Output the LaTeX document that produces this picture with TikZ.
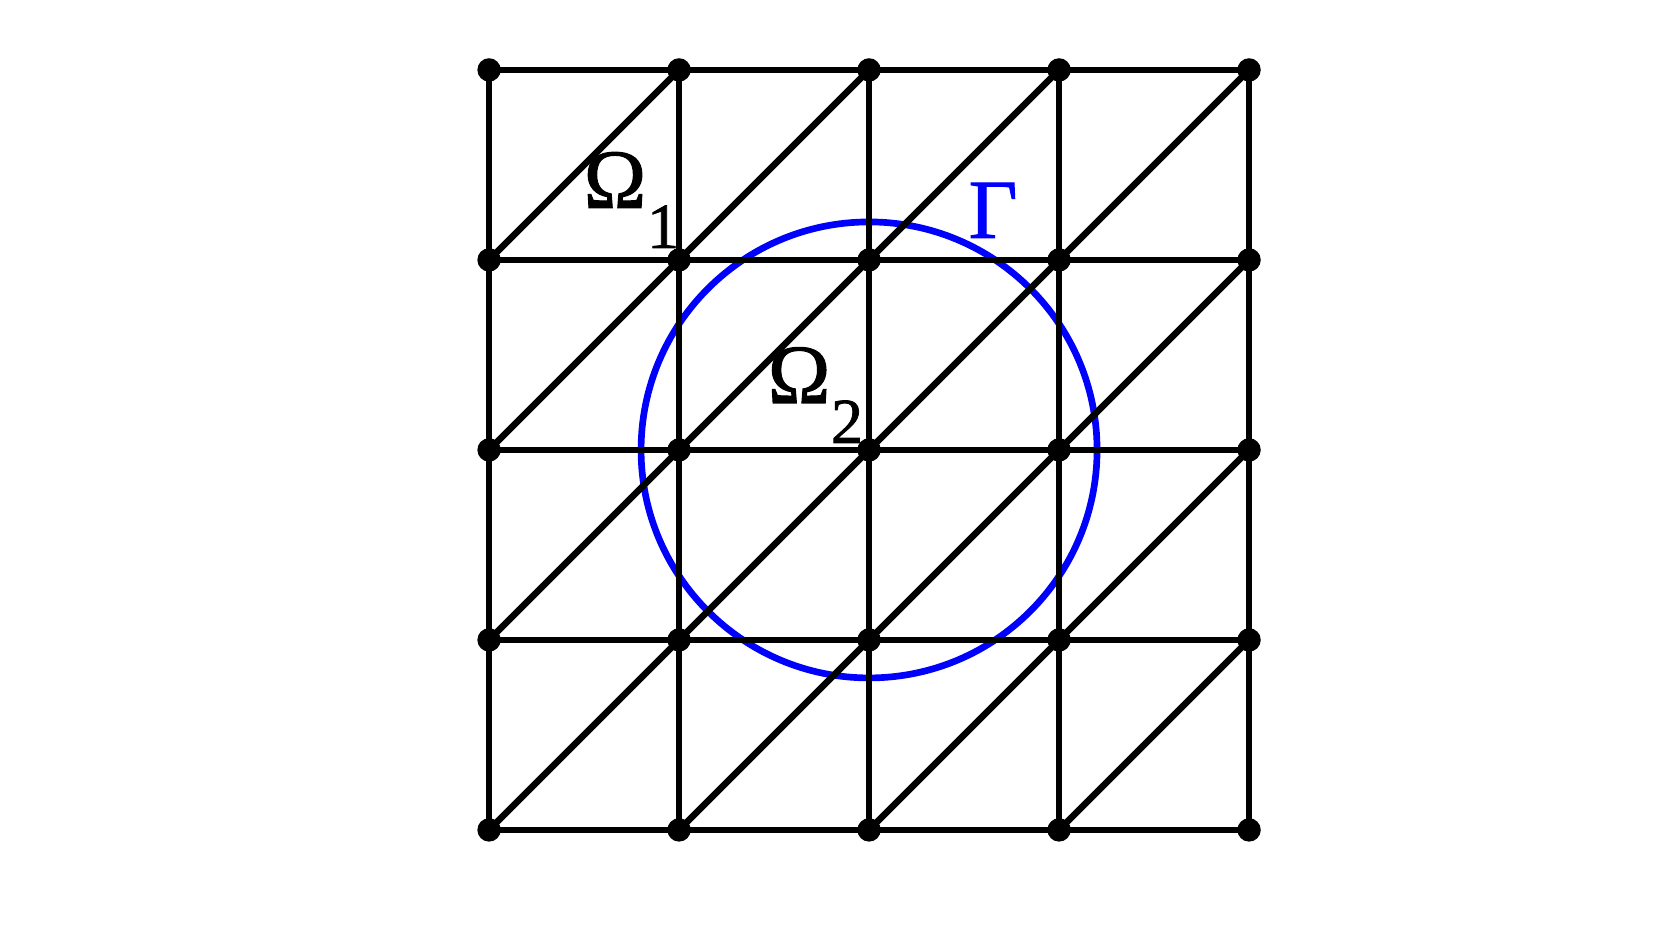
\documentclass[tikz,border=0pt]{standalone}
\usepackage{fontspec}
\setmainfont{Liberation Serif}
\newfontface\labfont[FakeBold=1.2]{Liberation Serif}
\begin{document}
\begin{tikzpicture}[x=1cm,y=1cm,
  dot/.style={circle,fill=black,inner sep=0pt,minimum size=3.5pt},
  edge/.style={line width=1pt,black},
  gamma/.style={line width=1pt,blue},
  biglab/.style={anchor=base,inner sep=0pt,font=\fontsize{12.6}{14}\labfont},
  sublab/.style={anchor=base,inner sep=0pt,font=\fontsize{9.6}{11}\labfont}]
\useasboundingbox (-2.574,-0.537) rectangle (6.268,4.368);
\foreach \i in {0,...,4}{
  \foreach \j in {0,...,4}{
    \coordinate (c-\i-\j) at (\i,\j);
  }
}
\draw[gamma] (c-2-2) circle (1.2);
\foreach \j in {0,...,4}{
  \draw[edge] (c-0-\j) -- (c-4-\j);
  \draw[edge] (c-\j-0) -- (c-\j-4);
}
\foreach \i in {0,...,3}{
  \foreach \j in {0,...,3}{
    \pgfmathtruncatemacro{\ii}{\i+1}
    \pgfmathtruncatemacro{\jj}{\j+1}
    \draw[edge] (c-\i-\j) -- (c-\ii-\jj);
  }
}
\foreach \i in {0,...,4}{
  \foreach \j in {0,...,4}{
    \node[dot] (n-\i-\j) at (c-\i-\j) {};
  }
}
\node[biglab] (om1) at (0.663,3.274) {Ω};
\node[sublab] (s1) at (0.916,3.063) {1};
\node[biglab] (om2) at (1.632,2.247) {Ω};
\node[sublab] (s2) at (1.884,2.037) {2};
\node[biglab,text=blue] (gam) at (2.653,3.116) {Γ};
\end{tikzpicture}
\end{document}
